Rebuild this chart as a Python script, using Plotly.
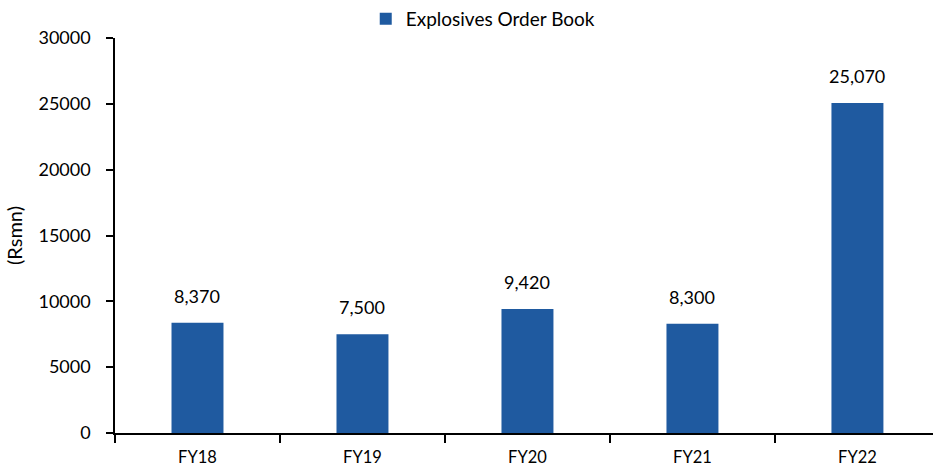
import plotly.graph_objects as go

categories = ["FY18", "FY19", "FY20", "FY21", "FY22"]
values = [8370, 7500, 9420, 8300, 25070]
labels = ["8,370", "7,500", "9,420", "8,300", "25,070"]
series_name = "Explosives Order Book"
y_ticks = [0, 5000, 10000, 15000, 20000, 25000, 30000]

W, H = 933, 468
FONT = "Lato"
BAR = "#1f5aa0"

fig = go.Figure()
fig.add_trace(go.Bar(
    x=categories, y=values, name=series_name,
    marker=dict(color=BAR, line=dict(width=0)),
    width=0.315,
))
for c, v, t in zip(categories, values, labels):
    fig.add_annotation(x=c, y=v, text=t, showarrow=False, yanchor="bottom",
                       yshift=14, font=dict(family=FONT, size=18, color="#000"))

fig.update_layout(
    width=W, height=H,
    margin=dict(l=115, r=0, t=38, b=35, autoexpand=False),
    paper_bgcolor="white", plot_bgcolor="white",
    font=dict(family=FONT, size=16, color="#000"),
    showlegend=True,
    legend=dict(orientation="h", xref="container", yref="container",
                x=0.392, y=1.0, xanchor="left", yanchor="top",
                font=dict(family=FONT, size=19, color="#000"),
                itemwidth=30, bgcolor="rgba(0,0,0,0)"),
    bargap=0.685,
)
fig.update_xaxes(
    type="category", range=[-0.5, 4.458],
    showline=True, linecolor="#000", linewidth=1.5,
    ticks="outside", tickson="boundaries", ticklen=8, tickcolor="#000", tickwidth=1.5,
    ticklabelstandoff=8,
    showgrid=False, zeroline=False,
    tickfont=dict(family=FONT, size=16.5, color="#000"),
)
fig.update_yaxes(
    range=[0, 30000], tickvals=y_ticks, ticktext=[str(v) for v in y_ticks],
    showline=True, linecolor="#000", linewidth=1.5,
    ticks="outside", ticklen=7, tickcolor="#000", tickwidth=1.5,
    ticklabelstandoff=12,
    showgrid=False, zeroline=False,
    tickfont=dict(family=FONT, size=18, color="#000"),
    title=dict(text="(Rsmn)", font=dict(family=FONT, size=20, color="#000"), standoff=10),
)
fig.write_html("out.html")
